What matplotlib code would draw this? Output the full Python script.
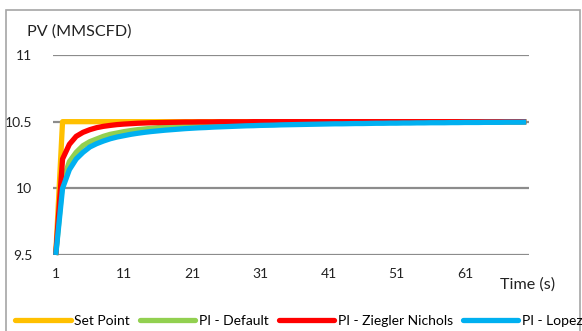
import matplotlib
matplotlib.use("Agg")
import matplotlib.pyplot as plt
from matplotlib.patches import Rectangle

plt.rcParams["font.family"] = ["Lato", "DejaVu Sans"]

# time in seconds (categories 1..70)
time_s = list(range(1, 71))

set_point = [9.5] + [10.5] * 69

pi_default = [
    9.5, 10.05, 10.2, 10.27, 10.32, 10.35, 10.37, 10.39, 10.405, 10.415,
    10.425, 10.433, 10.44, 10.445, 10.45, 10.455, 10.459, 10.463, 10.466, 10.469,
    10.472, 10.474, 10.476, 10.478, 10.48, 10.481, 10.482, 10.483, 10.484, 10.485,
    10.486, 10.487, 10.488, 10.488, 10.489, 10.49, 10.49, 10.491, 10.491, 10.492,
    10.492, 10.493, 10.493, 10.494, 10.494, 10.494, 10.495, 10.495, 10.495, 10.496,
    10.496, 10.496, 10.496, 10.497, 10.497, 10.497, 10.497, 10.497, 10.498, 10.498,
    10.498, 10.498, 10.498, 10.498, 10.499, 10.499, 10.499, 10.499, 10.499, 10.499,
]

pi_ziegler = [
    9.5, 10.22, 10.33, 10.39, 10.42, 10.44, 10.455, 10.465, 10.472, 10.478,
    10.482, 10.485, 10.488, 10.49, 10.492, 10.493, 10.494, 10.495, 10.496, 10.497,
    10.497, 10.498, 10.498, 10.498, 10.499, 10.499, 10.499, 10.499, 10.499, 10.5,
    10.5, 10.5, 10.5, 10.5, 10.5, 10.5, 10.5, 10.5, 10.5, 10.5,
    10.5, 10.5, 10.5, 10.5, 10.5, 10.5, 10.5, 10.5, 10.5, 10.5,
    10.5, 10.5, 10.5, 10.5, 10.5, 10.5, 10.5, 10.5, 10.5, 10.5,
    10.5, 10.5, 10.5, 10.5, 10.5, 10.5, 10.5, 10.5, 10.5, 10.5,
]

pi_lopez = [
    9.5, 10.0, 10.14, 10.22, 10.27, 10.31, 10.335, 10.355, 10.372, 10.385,
    10.395, 10.405, 10.413, 10.42, 10.426, 10.431, 10.436, 10.44, 10.444, 10.448,
    10.451, 10.454, 10.456, 10.459, 10.461, 10.463, 10.465, 10.467, 10.469, 10.47,
    10.472, 10.473, 10.474, 10.476, 10.477, 10.478, 10.479, 10.48, 10.481, 10.482,
    10.483, 10.484, 10.484, 10.485, 10.486, 10.486, 10.487, 10.488, 10.488, 10.489,
    10.489, 10.49, 10.49, 10.491, 10.491, 10.492, 10.492, 10.492, 10.493, 10.493,
    10.494, 10.494, 10.494, 10.495, 10.495, 10.495, 10.496, 10.496, 10.496, 10.497,
]

series = [
    ("Set Point", set_point, "#FFC000"),
    ("PI - Default", pi_default, "#92D050"),
    ("PI - Ziegler Nichols", pi_ziegler, "#FF0000"),
    ("PI - Lopez", pi_lopez, "#00B0F0"),
]

y_ticks = [9.5, 10, 10.5, 11]
y_labels = ["9.5", "10", "10.5", "11"]
x_ticks = [1, 11, 21, 31, 41, 51, 61]

fig = plt.figure(figsize=(5.82, 3.31), dpi=100)
ax = fig.add_axes([53 / 582, 76 / 331, 476 / 582, 200 / 331])

for name, vals, col in series:
    ax.plot(time_s, vals, color=col, lw=3.8, label=name,
            solid_capstyle="butt", solid_joinstyle="round", clip_on=False)

ax.set_xlim(0.6, 70.4)
ax.set_ylim(9.5, 11)
ax.set_yticks(y_ticks)
ax.set_yticklabels(y_labels)
ax.set_xticks(x_ticks)
for s in ax.spines.values():
    s.set_visible(False)
ax.tick_params(axis="both", length=0, labelsize=10, colors="#222222")
ax.tick_params(axis="y", pad=15)
ax.tick_params(axis="x", pad=9)
ax.grid(axis="y", color="#8c8c8c", lw=1.6, zorder=0)
ax.set_axisbelow(True)

fig.text(27 / 582, 1 - 32 / 331, "PV (MMSCFD)", fontsize=11.6, va="center",
         ha="left", color="#222222")
fig.text(500 / 582, 1 - 285 / 331, "Time (s)", fontsize=11.6, va="center",
         ha="left", color="#222222")

leg = fig.legend(loc="center left", bbox_to_anchor=(15 / 582, 1 - 321 / 331),
                 ncol=4, frameon=False, fontsize=10, handlelength=4.0,
                 handletextpad=0.25, columnspacing=0.72, borderaxespad=0,
                 borderpad=0)
for ln in leg.get_lines():
    ln.set_linewidth(3.8)
    ln.set_solid_capstyle("round")

fig.patches.append(Rectangle((6 / 582, -0.1), 574 / 582, 0.1 + 1 - 10 / 331,
                             transform=fig.transFigure, fill=False,
                             edgecolor="#a6a6a6", lw=1.2))

fig.savefig("out.png", dpi=100)
